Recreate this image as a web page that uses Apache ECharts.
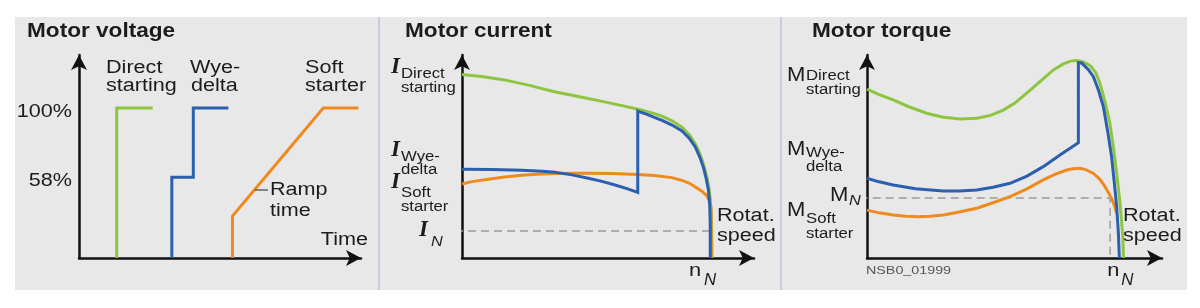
<!DOCTYPE html>
<html>
<head>
<meta charset="utf-8">
<script src="https://cdn.jsdelivr.net/npm/echarts@6/dist/echarts.min.js"></script>
<style>
html,body{margin:0;padding:0;background:#ffffff;}
#c{width:1200px;height:308px;}
</style>
</head>
<body>
<div id="c"></div>
<script>
// ---------------- DATA ----------------
const panelTitles = ['Motor voltage', 'Motor current', 'Motor torque'];
const seriesNames = ['Direct starting', 'Wye-delta', 'Soft starter'];

// Panel 1: motor voltage vs time (x: time units, y: % of rated voltage)
const voltageTickLabels = ['100%', '58%'];
const voltageTickValues = [100, 58];
const voltageDirect   = [[13, 9], [13, 100], [25.4, 100]];
const voltageWyeDelta = [[32, 9], [32, 58], [39.4, 58], [39.4, 100], [51.5, 100]];
const voltageSoft     = [[52.9, 9], [52.9, 34.5], [84.2, 100], [96.3, 100]];

// Panel 2: motor current vs rotational speed (x: % of rated speed nN)
const currentDirect = [[0, 87], [8, 86], [17, 84.4], [27, 81.8], [37, 78.8], [47, 76.4], [57, 74], [64, 72.2],
  [70.5, 70.5], [76, 68.8], [80, 67.2], [84, 65], [88, 62], [91, 58.3], [93.3, 54.2], [95.2, 49.2],
  [96.6, 44.5], [97.7, 39.5], [98.6, 34.5], [99.3, 28], [99.7, 21], [99.9, 12], [100, 0]];
const currentWyeDelta = [[0, 42], [12, 41.9], [24, 41.6], [32, 41.1], [37.2, 40.6], [44, 39.4], [50.5, 37.8],
  [56, 36.3], [61.2, 34.6], [66, 32.9], [70.3, 31.1], [70.3, 69.6], [74, 68.1], [77.2, 66.5], [80, 65.2],
  [84, 63], [88, 60.2], [91, 56.6], [93.3, 52.6], [95.2, 47.6], [96.6, 42.8], [97.7, 37.5], [98.6, 32],
  [99.1, 25], [99.3, 15], [99.3, 0]];
const currentSoft = [[0, 35.1], [4, 36.2], [10.5, 37.3], [17, 38.4], [23.9, 39.2], [30, 39.7], [37.2, 40.1],
  [44, 40.2], [50.5, 40.2], [60, 40], [70.5, 39.6], [77, 39.1], [83.9, 38.1], [88, 36.8], [91, 35.4],
  [93.2, 33.8], [95.8, 31.8], [97.9, 29.6], [99, 27], [99.6, 24], [99.7, 0]];
const currentRated = [[-8, 12.8], [99.3, 12.8]];
const currentAxisLabels = [['I', 'Direct', 'starting'], ['I', 'Wye-', 'delta'], ['I', 'Soft', 'starter'], ['I', 'N']];

// Panel 3: motor torque vs rotational speed
const torqueDirect = [[0, 80], [5, 77.4], [10.8, 74.9], [17, 71.8], [24.6, 68.6], [31, 66.8], [38.4, 65.9],
  [45.3, 66.2], [51, 67.6], [56.2, 70.1], [61, 73.4], [65.9, 78.1], [71, 83.2], [76.9, 89.1], [81, 92],
  [84, 93.3], [86.5, 93.6], [89, 93], [92, 91.3], [94.3, 88], [96.1, 82.8], [98.2, 74], [100.2, 63.8],
  [101.7, 52], [103, 40.1], [104.2, 28], [105.1, 16.4], [105.6, 8], [105.8, 0]];
const torqueWyeDelta = [[0, 37.8], [5, 36.1], [10.8, 34.6], [20, 32.8], [31.5, 31.8], [38, 31.8], [45.3, 32.2],
  [52, 33.5], [59, 35.4], [66, 38.8], [72.7, 43.3], [79.6, 48.8], [87.2, 54.6], [87.2, 92.6], [88.5, 92.4],
  [89.2, 91.9], [91.3, 89.3], [93.4, 85.9], [95.5, 79.5], [97.5, 71.7], [99.3, 60], [100.9, 48], [102, 36],
  [103, 24.3], [103.7, 12], [104.1, 0]];
const torqueSoft = [[0, 22.7], [5, 21.4], [10.8, 20.4], [16, 19.8], [21.2, 19.6], [26, 19.8], [31.5, 20.4],
  [38, 21.8], [45.3, 23.6], [52, 26.2], [59, 29.1], [66, 32.8], [72.7, 37], [77.5, 39.6], [82.4, 41.7],
  [85, 42.3], [87.9, 42.5], [90.5, 41.8], [93.4, 40.1], [96, 37.4], [98.2, 33.8], [100.9, 28.3],
  [102.2, 24.5], [103, 21]];
const torqueRated = [[-3, 28.4], [100.3, 28.4], [100.3, 0]];
const torqueAxisLabels = [['M', 'Direct', 'starting'], ['M', 'Wye-', 'delta'], ['M', 'Soft', 'starter'], ['M', 'N']];

const speedLabel = ['n', 'N'];
const speedAxisName = ['Rotat.', 'speed'];
const timeAxisName = 'Time';
const rampLabel = ['Ramp', 'time'];
const drawingId = 'NSB0_01999';

// ---------------- STYLE ----------------
const SANS = '"Liberation Sans", Arial, Helvetica, sans-serif';
const SERIF = '"Liberation Serif", "Times New Roman", serif';
const INK = '#1c1c1c';
const COLORS = ['#8dc540', '#2c5fae', '#ef8a1e'];

const chart = echarts.init(document.getElementById('c'), null, {renderer: 'canvas', width: 1200, height: 308});

function axis(gi, min, max) {
  return {
    type: 'value', gridIndex: gi, min: min, max: max,
    axisLine: {show: true, onZero: false, symbol: ['none', 'arrow'], symbolSize: [12, 15],
      lineStyle: {color: '#111111', width: 2.5}},
    axisTick: {show: false}, axisLabel: {show: false}, splitLine: {show: false}
  };
}
function line(gi, data, color, z, extra) {
  return Object.assign({
    type: 'line', xAxisIndex: gi, yAxisIndex: gi, data: data, showSymbol: false, symbol: 'none',
    smooth: false, silent: true, z: z,
    lineStyle: {color: color, width: 3, cap: 'butt', join: 'miter'}
  }, extra || {});
}
function dashed(gi, data) {
  return {
    type: 'line', xAxisIndex: gi, yAxisIndex: gi, data: data, showSymbol: false, symbol: 'none',
    silent: true, clip: false, z: 1,
    lineStyle: {color: '#9b9b9b', width: 1.5, type: [8, 5]}
  };
}

chart.setOption({
  animation: false,
  backgroundColor: 'transparent',
  grid: [
    {left: 79, top: 55, width: 282, height: 203, containLabel: false, outerBoundsMode: 'none'},
    {left: 462, top: 55, width: 292, height: 203, containLabel: false, outerBoundsMode: 'none'},
    {left: 867, top: 55, width: 295, height: 203, containLabel: false, outerBoundsMode: 'none'}
  ],
  xAxis: [axis(0, 0, 97.2), axis(1, 0, 116.8), axis(2, 0, 121.7)],
  yAxis: [axis(0, 9, 132.2), axis(1, 0, 96.2), axis(2, 0, 96.2)],
  series: [
    line(0, voltageDirect, COLORS[0], 3, {name: seriesNames[0]}),
    line(0, voltageWyeDelta, COLORS[1], 3, {name: seriesNames[1]}),
    line(0, voltageSoft, COLORS[2], 3, {name: seriesNames[2]}),
    dashed(1, currentRated),
    line(1, currentDirect, COLORS[0], 2, {name: seriesNames[0]}),
    line(1, currentSoft, COLORS[2], 3, {name: seriesNames[2]}),
    line(1, currentWyeDelta, COLORS[1], 4, {name: seriesNames[1]}),
    dashed(2, torqueRated),
    line(2, torqueDirect, COLORS[0], 2, {name: seriesNames[0]}),
    line(2, torqueSoft, COLORS[2], 3, {name: seriesNames[2]}),
    line(2, torqueWyeDelta, COLORS[1], 4, {name: seriesNames[1]})
  ]
});

// ---------------- TEXT ----------------
function T(x, y, text, size, o) {
  o = o || {};
  return {
    type: 'text', x: x, y: y, scaleX: o.sx || 1, z: 50, silent: true,
    style: {
      text: text, fontSize: size, fontFamily: o.family || SANS,
      fontWeight: o.weight || 'normal', fontStyle: o.style || 'normal',
      fill: o.color || INK, textAlign: o.align || 'left', align: o.align || 'left',
      textVerticalAlign: 'middle', verticalAlign: 'middle'
    }
  };
}
const px = (gi, v) => chart.convertToPixel({gridIndex: gi}, v);

const G = [];
// background & separators
G.push({type: 'rect', z: -100, silent: true, shape: {x: 15, y: 17, width: 1172, height: 273},
  style: {fill: '#e8e8e8'}});
G.push({type: 'line', z: -90, silent: true, shape: {x1: 379, y1: 17, x2: 379, y2: 290},
  style: {stroke: '#c4cee0', lineWidth: 2}});
G.push({type: 'line', z: -90, silent: true, shape: {x1: 781, y1: 17, x2: 781, y2: 290},
  style: {stroke: '#c4cee0', lineWidth: 2}});

// titles
const titleX = [27, 405, 812];
panelTitles.forEach((t, i) => G.push(T(titleX[i], 31, t, 20, {weight: 'bold', sx: 1.13})));

// panel 1 labels
const L = {sx: 1.2};
G.push(T(106, 68.5, 'Direct', 18, L), T(106, 86.5, 'starting', 18, L));
G.push(T(190, 68.5, 'Wye-', 18, L), T(191, 86.5, 'delta', 18, L));
G.push(T(305, 68.5, 'Soft', 18, L), T(305, 86.5, 'starter', 18, L));
voltageTickLabels.forEach((t, i) => {
  const p = px(0, [0, voltageTickValues[i]]);
  G.push(T(72, p[1] + 4, t, 18, {sx: 1.2, align: 'right'}));
});
G.push(T(270, 190, rampLabel[0], 18, L), T(270, 211, rampLabel[1], 18, L));
G.push({type: 'line', z: 40, silent: true, shape: {x1: 255, y1: 190, x2: 268, y2: 190},
  style: {stroke: '#444', lineWidth: 1.2}});
G.push(T(368, 240, timeAxisName, 18, {sx: 1.2, align: 'right'}));

// panel 2 labels
const SUB = {sx: 1.08};
const IFONT = {family: SERIF, style: 'italic', weight: 'bold'};
const curY = [[67.5, 74, 88], [150.5, 157, 170], [182.5, 193, 207]];
currentAxisLabels.slice(0, 3).forEach((lab, i) => {
  G.push(T(391, curY[i][0], lab[0], 23, IFONT));
  G.push(T(401, curY[i][1], lab[1], 15.5, SUB), T(401, curY[i][2], lab[2], 15.5, SUB));
});
{
  const p = px(1, currentRated[0]);
  G.push(T(419, p[1] - 0.5, currentAxisLabels[3][0], 23, IFONT));
  G.push(T(431, p[1] + 10.5, currentAxisLabels[3][1], 15.5, {style: 'italic', sx: 1.05}));
}
G.push(T(717, 216.5, speedAxisName[0], 18, L), T(717, 236, speedAxisName[1], 18, L));
{
  const p = px(1, [100, 0]);
  G.push(T(p[0] - 23, 271, speedLabel[0], 19, {sx: 1.15}));
  G.push(T(p[0] - 8, 281, speedLabel[1], 16, {style: 'italic', sx: 1.05}));
}

// panel 3 labels
const MF = {sx: 1.05};
const torY = [[75, 76, 90], [149, 153, 166.5], [210.5, 218.5, 234]];
torqueAxisLabels.slice(0, 3).forEach((lab, i) => {
  G.push(T(787, torY[i][0], lab[0], 21, MF));
  G.push(T(806, torY[i][1], lab[1], 15.5, SUB), T(806, torY[i][2], lab[2], 15.5, SUB));
});
{
  const p = px(2, torqueRated[0]);
  G.push(T(830, p[1] - 2.5, torqueAxisLabels[3][0], 21, MF));
  G.push(T(849, p[1] + 3, torqueAxisLabels[3][1], 15.5, {style: 'italic', sx: 1.05}));
}
G.push(T(1123, 216.5, speedAxisName[0], 18, L), T(1123, 236, speedAxisName[1], 18, L));
{
  const p = px(2, [100.3, 0]);
  G.push(T(p[0] - 3, 271, speedLabel[0], 19, {sx: 1.15}));
  G.push(T(p[0] + 11, 281, speedLabel[1], 16, {style: 'italic', sx: 1.05}));
}
G.push(T(866, 271, drawingId, 11, {sx: 1.3, color: '#555'}));

chart.setOption({graphic: {elements: G}});
</script>
</body>
</html>
